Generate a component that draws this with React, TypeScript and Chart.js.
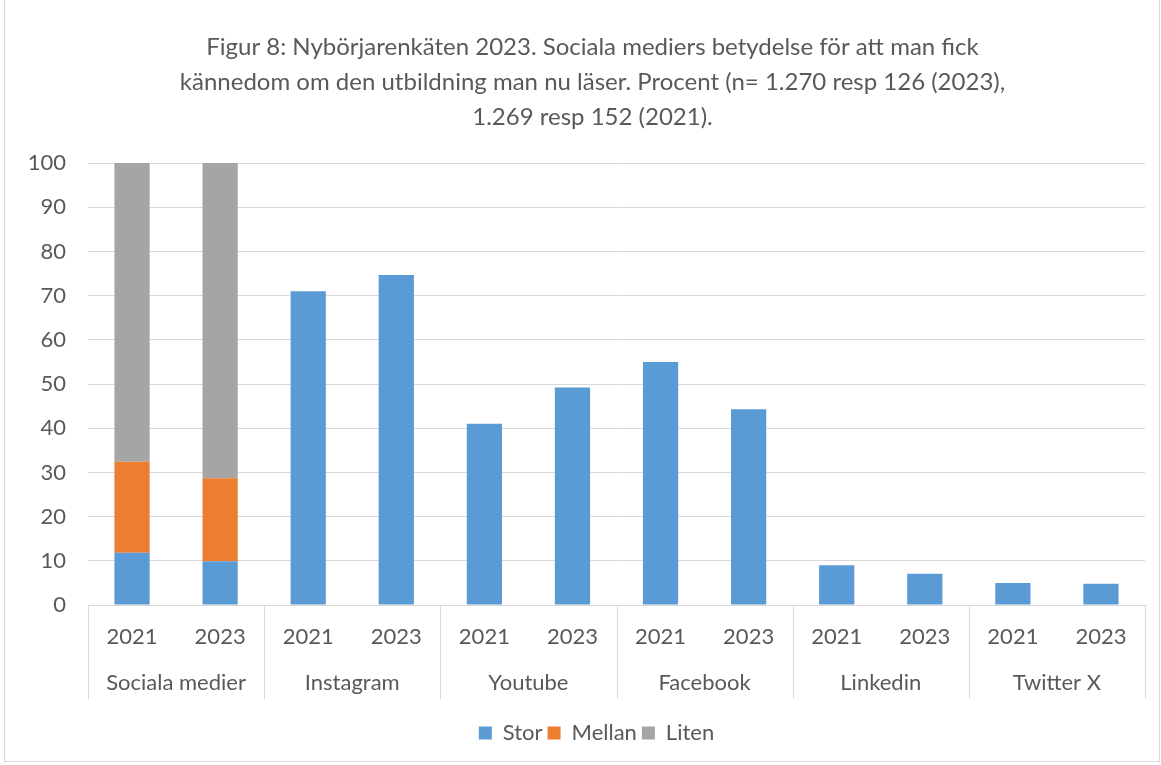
import React, { useEffect, useRef } from "react";
import { Chart, registerables } from "chart.js";

Chart.register(...registerables);

const groups = ["Sociala medier", "Instagram", "Youtube", "Facebook", "Linkedin", "Twitter X"];
const years = ["2021", "2023"];
const stor = [11.8, 9.9, 71.0, 74.7, 41.0, 49.2, 55.0, 44.3, 9.0, 7.1, 5.0, 4.8];
const mellan = [20.6, 18.8, 0, 0, 0, 0, 0, 0, 0, 0, 0, 0];
const liten = [67.6, 71.3, 0, 0, 0, 0, 0, 0, 0, 0, 0, 0];
const titleLines = [
  "Figur 8: Nybörjarenkäten 2023. Sociala mediers betydelse för att man fick",
  "kännedom om den utbildning man nu läser. Procent (n= 1.270 resp 126 (2023),",
  "1.269 resp 152 (2021).",
];

const FONT = "Lato";
const FS = 22;
const TXT = "#595959";
const GRID = "#d9d9d9";

const labels: string[] = [];
groups.forEach(() => years.forEach((y) => labels.push(y)));

const shiftPlugin = {
  id: "shiftBlocks",
  beforeDraw(chart: any) {
    const t = chart.titleBlock;
    if (t && !t._shifted) { t.left += 20; t.right += 20; t._shifted = true; }
    const l = chart.legend;
    if (l && !l._shifted) { l.left += 24; l.right += 24; l._shifted = true; }
  },
};

const groupPlugin = {
  id: "groupLabels",
  afterDraw(chart: any) {
    const x = chart.scales.x;
    const area = chart.chartArea;
    const ctx = chart.ctx;
    const n = labels.length;
    const w = (area.right - area.left) / n;
    ctx.save();
    ctx.strokeStyle = GRID;
    ctx.lineWidth = 1;
    for (let i = 0; i <= groups.length; i++) {
      const px = Math.round(area.left + i * 2 * w) + 0.5;
      ctx.beginPath();
      ctx.moveTo(px, area.bottom);
      ctx.lineTo(px, area.bottom + 94);
      ctx.stroke();
    }
    ctx.fillStyle = TXT;
    ctx.font = `${FS}px ${FONT}`;
    ctx.textAlign = "center";
    ctx.textBaseline = "middle";
    groups.forEach((g, i) => {
      const cx = (x.getPixelForValue(2 * i) + x.getPixelForValue(2 * i + 1)) / 2;
      ctx.fillText(g, cx, area.bottom + 78);
    });
    ctx.restore();
  },
};

export default function App() {
  const ref = useRef<HTMLCanvasElement>(null);
  useEffect(() => {
    const chart = new Chart(ref.current!, {
      type: "bar",
      data: {
        labels,
        datasets: [
          { label: "Stor", data: stor, backgroundColor: "#5B9BD5" },
          { label: "Mellan", data: mellan, backgroundColor: "#ED7D31" },
          { label: "Liten", data: liten, backgroundColor: "#A5A5A5" },
        ],
      },
      options: {
        animation: false,
        responsive: false,
        maintainAspectRatio: false,
        layout: { padding: { left: 0, right: 16, top: 0, bottom: 11 } },
        datasets: { bar: { barPercentage: 0.4, categoryPercentage: 1 } },
        scales: {
          x: {
            stacked: true,
            grid: { display: false, drawTicks: false },
            border: { display: true, color: GRID, width: 1 },
            ticks: { color: TXT, font: { family: FONT, size: FS }, padding: 19, maxRotation: 0, autoSkip: false },
            afterFit: (s: any) => { s.height = 112; },
          },
          y: {
            stacked: true,
            min: 0,
            max: 100,
            grid: { color: GRID, lineWidth: 1, drawTicks: false },
            border: { display: false },
            ticks: { stepSize: 10, color: TXT, font: { family: FONT, size: FS }, padding: 22 },
            afterFit: (s: any) => { s.width = 88; },
          },
        },
        plugins: {
          title: {
            display: true,
            text: titleLines,
            color: TXT,
            font: { family: FONT, size: 24, weight: "normal", lineHeight: 1.46 },
            padding: { top: 30, bottom: 28 },
          },
          legend: {
            position: "bottom",
            labels: { color: TXT, font: { family: FONT, size: FS }, boxWidth: 13, boxHeight: 13, padding: 5 },
          },
          tooltip: { enabled: false },
        },
      },
      plugins: [shiftPlugin, groupPlugin],
    });
    return () => chart.destroy();
  }, []);
  return (
    <div style={{ position: "fixed", left: 0, top: 0, width: 1161, height: 765, background: "#fff" }}>
      <canvas ref={ref} width={1161} height={765} style={{ display: "block" }} />
      <div style={{ position: "absolute", left: 4, top: -2, width: 1154, height: 762, border: `1px solid ${GRID}`, pointerEvents: "none" }} />
    </div>
  );
}
